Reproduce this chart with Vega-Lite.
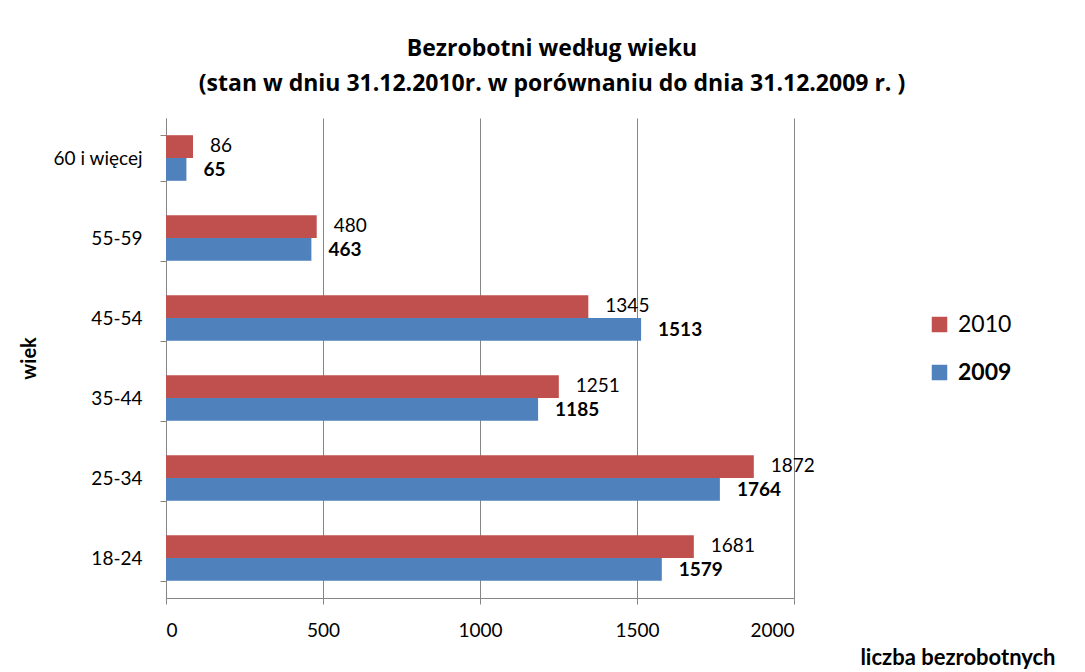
{
  "$schema": "https://vega.github.io/schema/vega-lite/v6.json",
  "width": 628,
  "height": 480,
  "autosize": {"type": "none"},
  "padding": {"left": 166, "top": 118, "right": 291, "bottom": 74},
  "background": "white",
  "config": {
    "font": "Lato",
    "view": {"stroke": null},
    "axis": {"domainColor": "#868686", "tickColor": "#868686", "gridColor": "#868686", "labelColor": "#000", "titleColor": "#000", "labelFont": "Lato", "titleFont": "Lato"}
  },
  "title": {
    "text": ["Bezrobotni według wieku", "(stan w dniu 31.12.2010r. w porównaniu do dnia 31.12.2009 r. )"],
    "font": "Open Sans",
    "fontSize": 23,
    "fontWeight": "bold",
    "color": "#000",
    "anchor": "middle",
    "frame": "group",
    "dx": 72,
    "lineHeight": 35,
    "offset": 13
  },
  "data": {
    "values": [
      {"wiek": "60 i więcej", "rok": "2010", "liczba": 86},
      {"wiek": "60 i więcej", "rok": "2009", "liczba": 65},
      {"wiek": "55-59", "rok": "2010", "liczba": 480},
      {"wiek": "55-59", "rok": "2009", "liczba": 463},
      {"wiek": "45-54", "rok": "2010", "liczba": 1345},
      {"wiek": "45-54", "rok": "2009", "liczba": 1513},
      {"wiek": "35-44", "rok": "2010", "liczba": 1251},
      {"wiek": "35-44", "rok": "2009", "liczba": 1185},
      {"wiek": "25-34", "rok": "2010", "liczba": 1872},
      {"wiek": "25-34", "rok": "2009", "liczba": 1764},
      {"wiek": "18-24", "rok": "2010", "liczba": 1681},
      {"wiek": "18-24", "rok": "2009", "liczba": 1579}
    ]
  },
  "encoding": {
    "y": {
      "field": "wiek",
      "type": "nominal",
      "sort": ["60 i więcej", "55-59", "45-54", "35-44", "25-34", "18-24"],
      "scale": {"paddingInner": 0.43, "paddingOuter": 0.215},
      "axis": {
        "title": "wiek",
        "titleFontSize": 20,
        "titleFontWeight": "bold",
        "titlePadding": 13,
        "labelFontSize": 19,
        "labelPadding": 18,
        "tickBand": "extent",
        "tickSize": 6,
        "grid": false
      }
    },
    "yOffset": {
      "field": "rok",
      "type": "nominal",
      "sort": ["2010", "2009"],
      "scale": {"paddingInner": 0, "paddingOuter": 0}
    },
    "x": {
      "field": "liczba",
      "type": "quantitative",
      "scale": {"domain": [0, 2000], "nice": false},
      "axis": {
        "values": [0, 500, 1000, 1500, 2000],
        "format": "d",
        "title": "liczba bezrobotnych",
        "titleFontSize": 22,
        "titleFontWeight": "bold",
        "titleX": 889,
        "titleY": 59,
        "titleAlign": "right",
        "titleBaseline": "middle",
        "labelFontSize": 19,
        "labelPadding": 17,
        "tickSize": 6,
        "grid": true
      }
    }
  },
  "layer": [
    {
      "mark": {"type": "bar"},
      "encoding": {
        "color": {
          "field": "rok",
          "type": "nominal",
          "scale": {"domain": ["2010", "2009"], "range": ["#C0504D", "#4F81BD"]},
          "legend": {
            "title": null,
            "orient": "none",
            "legendX": 762,
            "legendY": 195,
            "symbolType": "square",
            "symbolSize": 240,
            "symbolStrokeWidth": 0,
            "symbolOpacity": 1,
            "labelFontSize": 23,
            "labelFont": "Lato",
            "labelColor": "#000",
            "labelOffset": 7,
            "rowPadding": 24,
            "encode": {
              "labels": {"update": {"fontWeight": {"signal": "datum.value == '2009' ? 'bold' : 'normal'"}}}
            }
          }
        }
      }
    },
    {
      "transform": [{"filter": "datum.rok == '2010'"}],
      "mark": {"type": "text", "align": "left", "baseline": "middle", "dx": 17, "dy": -1, "fontSize": 19, "font": "Lato", "color": "#000"},
      "encoding": {"text": {"field": "liczba", "type": "quantitative"}}
    },
    {
      "transform": [{"filter": "datum.rok == '2009'"}],
      "mark": {"type": "text", "align": "left", "baseline": "middle", "dx": 17, "dy": 1, "fontSize": 19, "fontWeight": "bold", "font": "Lato", "color": "#000"},
      "encoding": {"text": {"field": "liczba", "type": "quantitative"}}
    }
  ]
}
